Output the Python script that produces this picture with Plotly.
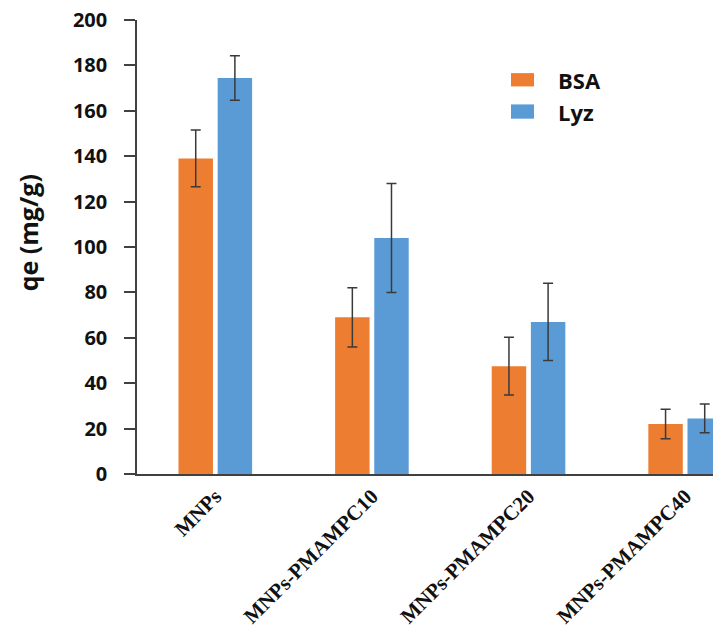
import plotly.graph_objects as go

# ---- data ----
categories = ["MNPs", "MNPs-PMAMPC10", "MNPs-PMAMPC20", "MNPs-PMAMPC40"]
bsa_values = [139, 69, 47.5, 22]
bsa_errors = [12.5, 13, 12.7, 6.5]
lyz_values = [174.5, 104, 67, 24.5]
lyz_errors = [9.8, 24, 17, 6.3]
series_names = ["BSA", "Lyz"]
y_ticks = [0, 20, 40, 60, 80, 100, 120, 140, 160, 180, 200]

ORANGE = "#ED7D31"
BLUE = "#5B9BD5"
ERR = "#3a3a3a"

OFF = 8  # default page body margin
W, H = 721 - OFF, 632 - OFF
L, R, T, B = 137 - OFF, 0, 19.5 - OFF, 632 - 474
PW, PH = W - L - R, H - T - B

def px_x(x):  # page pixel -> paper
    return (x - OFF - L) / PW

def px_y(y):
    return (H - B - (y - OFF)) / PH

fig = go.Figure()
fig.add_trace(go.Bar(
    x=categories, y=bsa_values, name=series_names[0],
    marker=dict(color=ORANGE, line=dict(width=0)),
    error_y=dict(type="data", array=bsa_errors, visible=True,
                 color=ERR, thickness=1.5, width=5),
    showlegend=False,
))
fig.add_trace(go.Bar(
    x=categories, y=lyz_values, name=series_names[1],
    marker=dict(color=BLUE, line=dict(width=0)),
    error_y=dict(type="data", array=lyz_errors, visible=True,
                 color=ERR, thickness=1.5, width=5),
    showlegend=False,
))

# manual legend (swatches + labels)
legend_items = [(series_names[0], ORANGE, 72.7, 86), (series_names[1], BLUE, 104, 118.3)]
for name, col, y0, y1 in legend_items:
    fig.add_shape(type="rect", xref="paper", yref="paper",
                  x0=px_x(511), x1=px_x(534), y0=px_y(y1), y1=px_y(y0),
                  fillcolor=col, line=dict(width=0))
    fig.add_annotation(xref="paper", yref="paper", x=px_x(556), y=px_y((y0 + y1) / 2),
                       text=name, showarrow=False, xanchor="left", yanchor="middle",
                       font=dict(family="Open Sans", size=22, color="#111", weight="bold"))

# y-axis title
fig.add_annotation(xref="paper", yref="paper", x=px_x(28), y=px_y(233),
                   text="qe (mg/g)", showarrow=False, textangle=-90,
                   xanchor="center", yanchor="middle",
                   font=dict(family="Open Sans", size=25, color="#111", weight="bold"))

fig.update_layout(
    width=W, height=H,
    margin=dict(l=L, r=R, t=T, b=B, autoexpand=False),
    paper_bgcolor="white", plot_bgcolor="white",
    barmode="group", bargap=0.5, bargroupgap=0.12,
    showlegend=False,
)
fig.update_xaxes(
    range=[-0.5, 3.229], showgrid=False, showline=True, linecolor="#404040", linewidth=1.5,
    ticks="", tickangle=-45, ticklabeloverflow="allow",
    tickfont=dict(family="Liberation Serif", size=21, color="#111", weight="bold"),
)
fig.update_yaxes(
    range=[0, 200], tickvals=y_ticks, ticktext=[str(v) for v in y_ticks],
    showgrid=False, zeroline=False, showline=True, linecolor="#404040", linewidth=1.5,
    ticks="outside", ticklen=11, tickcolor="#404040", tickwidth=1.5,
    ticklabelstandoff=13, ticklabeloverflow="allow",
    tickfont=dict(family="Open Sans", size=20, color="#111", weight="bold"),
)

fig.write_html("out.html")
